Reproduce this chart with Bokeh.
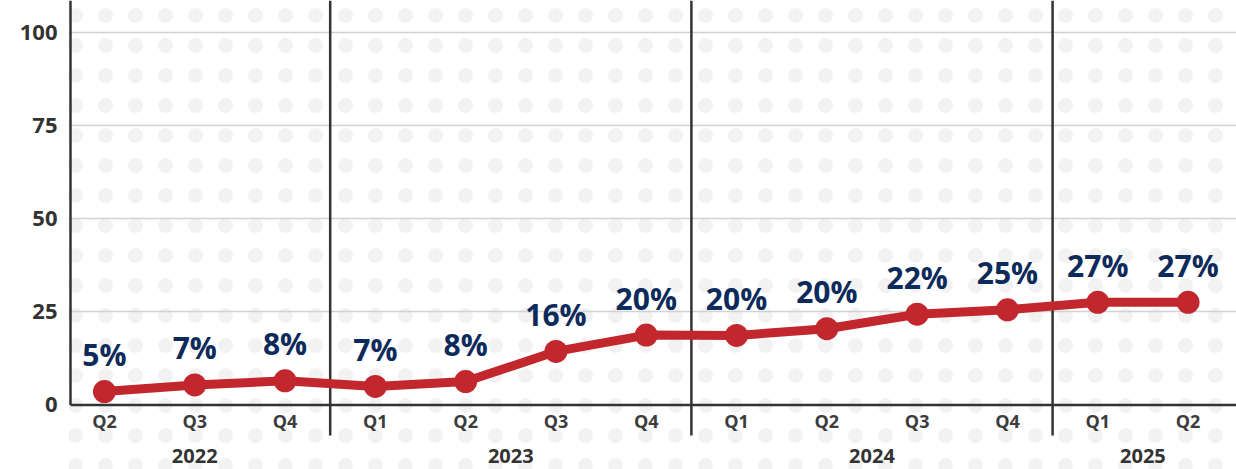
from bokeh.plotting import figure
from bokeh.models import Range1d, FixedTicker, ColumnDataSource
from bokeh.core.properties import value
from bokeh.embed import file_html
from bokeh.resources import INLINE

# ---- data ----
quarters = ["Q2", "Q3", "Q4", "Q1", "Q2", "Q3", "Q4", "Q1", "Q2", "Q3", "Q4", "Q1", "Q2"]
years = ["2022", "2022", "2022", "2023", "2023", "2023", "2023",
         "2024", "2024", "2024", "2024", "2025", "2025"]
values = [3.6, 5.4, 6.5, 5.0, 6.3, 14.4, 18.8, 18.7, 20.5, 24.4, 25.6, 27.6, 27.6]
labels = ["5%", "7%", "8%", "7%", "8%", "16%", "20%", "20%", "20%", "22%", "25%", "27%", "27%"]
y_ticks = [0, 25, 50, 75, 100]

RED = "#c1272d"
NAVY = "#0c2a5a"
DARK = "#333333"
FONT = "Open Sans"

xs = list(range(len(values)))

# year groups
year_names = []
for y in years:
    if y not in year_names:
        year_names.append(y)
year_centers = []
for yn in year_names:
    idx = [i for i, y in enumerate(years) if y == yn]
    year_centers.append(sum(idx) / len(idx))
separators = [i + 0.5 for i in range(len(years) - 1) if years[i] != years[i + 1]]

W, H = 1236, 469
LEFT = 68
PX_X = 90.3
PX_Y = 3.72
X0 = -0.398
X1 = X0 + (W - LEFT) / PX_X
Y0 = -17.34
Y1 = Y0 + H / PX_Y
AXIS_X = -0.376

p = figure(width=W, height=H, output_backend="svg", toolbar_location=None,
           x_range=Range1d(X0, X1), y_range=Range1d(Y0, Y1),
           x_axis_location=None,
           min_border_left=LEFT, min_border_right=0, min_border_top=0, min_border_bottom=0)
p.outline_line_color = None
p.background_fill_color = "white"
p.border_fill_color = "white"

# subtle dotted texture behind the chart
p.quad(left=[X0], right=[X1], bottom=[Y0], top=[Y1], fill_color=None, line_color=None,
       hatch_pattern="dot", hatch_color="#f2f2f2", hatch_scale=30, hatch_weight=3,
       level="underlay")

# y axis (labels only)
ya = p.yaxis[0]
ya.ticker = FixedTicker(ticks=y_ticks)
ya.axis_line_color = None
ya.major_tick_line_color = None
ya.minor_tick_line_color = None
ya.major_tick_out = 0
ya.major_tick_in = 0
ya.major_label_standoff = 11
ya.major_label_text_font = FONT
ya.major_label_text_font_style = "bold"
ya.major_label_text_font_size = "22px"
ya.major_label_text_color = DARK

p.xgrid.visible = False
p.ygrid.ticker = FixedTicker(ticks=[t for t in y_ticks if t > 0])
p.ygrid.grid_line_color = "#d2d2d2"
p.ygrid.grid_line_width = 1.5

# year separators
p.segment(x0=separators, x1=separators, y0=[Y1] * len(separators), y1=[-8.2] * len(separators),
          line_color=DARK, line_width=2.5)
# axis lines
p.segment(x0=[AXIS_X], x1=[AXIS_X], y0=[0], y1=[Y1], line_color=DARK, line_width=2.5)
p.segment(x0=[AXIS_X], x1=[X1], y0=[0], y1=[0], line_color=DARK, line_width=2.5)

src = ColumnDataSource(dict(x=xs, y=values, lab=labels, q=quarters, zero=[0] * len(xs)))

p.line("x", "y", source=src, line_color=RED, line_width=9, line_join="round")
p.scatter("x", "y", source=src, size=23, fill_color=RED, line_color=None)

p.text("x", "y", text="lab", source=src, text_font=value(FONT), text_font_style="bold",
       text_font_size="30px", text_color=NAVY, text_align="center",
       text_baseline="alphabetic", y_offset=-37)

p.text("x", "zero", text="q", source=src, text_font=value(FONT), text_font_style="bold",
       text_font_size="18px", text_color="#3c3c3c", text_align="center",
       text_baseline="middle", y_offset=16)

ysrc = ColumnDataSource(dict(x=year_centers, y=[0] * len(year_centers), t=year_names))
p.text("x", "y", text="t", source=ysrc, text_font=value(FONT), text_font_style="bold",
       text_font_size="20px", text_color=DARK, text_align="center",
       text_baseline="middle", y_offset=51)

open("out.html", "w").write(file_html(p, INLINE))
